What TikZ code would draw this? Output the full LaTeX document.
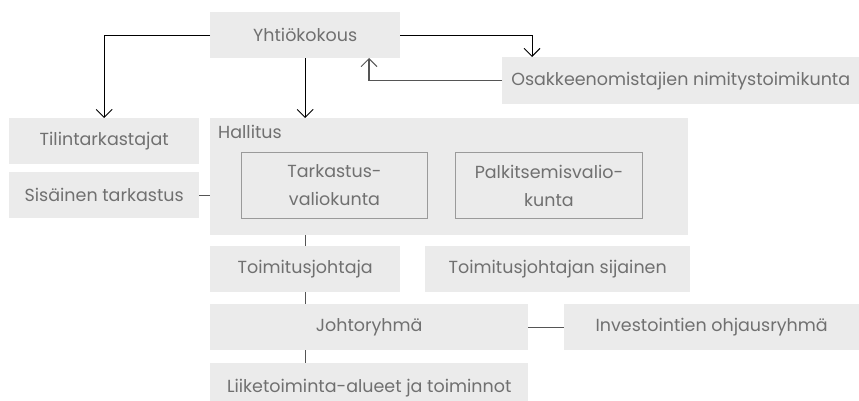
\documentclass[tikz,border=0pt]{standalone}
\usepackage{fontspec}
\setmainfont{Poppins}
\usetikzlibrary{arrows.meta,calc}
\definecolor{boxfill}{HTML}{EBEBEB}
\definecolor{txt}{HTML}{707070}
\definecolor{bord}{HTML}{9A9A9A}
\definecolor{conn}{HTML}{555555}
\tikzset{
  box/.style={fill=boxfill, text=txt, anchor=north west, inner sep=0pt, font=\fontsize{17.5}{28}\selectfont, align=center},
  inbox/.style={box, draw=bord, line width=1pt},
  arr/.style={draw=black, line width=0.9pt, -{Straight Barb[length=8pt,width=16pt,line width=0.9pt]}},
  lnk/.style={draw=conn, line width=1.4pt}
}
\begin{document}
\begin{tikzpicture}[x=1pt,y=-1pt]
\useasboundingbox (0,0) rectangle (859,401);
\begin{scope}
\clip (0,0) rectangle (859,401);
\node[box, minimum width=190pt, minimum height=46pt] (yht) at (210,12) {Yhtiökokous};
\node[box, minimum width=357pt, minimum height=47pt] (osak) at (502,57) {Osakkeenomistajien nimitystoimikunta};
\node[box, minimum width=190pt, minimum height=46pt] (tilin) at (9,118) {Tilintarkastajat};
\node[box, minimum width=190pt, minimum height=46pt] (sis) at (9,172) {Sisäinen tarkastus};
\node[box, minimum width=478pt, minimum height=117pt] (hall) at (210,118) {};
\node[box, fill=none, anchor=base west] (hlab) at (218,139) {Hallitus};
\node[inbox, minimum width=186pt, minimum height=66pt] (tark) at (241,152) {Tarkastus-\\valiokunta};
\node[inbox, minimum width=187pt, minimum height=66pt] (palk) at (455,152) {Palkitsemisvalio-\\kunta};
\node[box, minimum width=190pt, minimum height=46pt] (tj) at (210,246) {Toimitusjohtaja};
\node[box, minimum width=265pt, minimum height=46pt] (tjs) at (425,246) {Toimitusjohtajan sijainen};
\node[box, minimum width=318pt, minimum height=46pt] (joh) at (210,304) {Johtoryhmä};
\node[box, minimum width=295pt, minimum height=46pt] (inv) at (564,304) {Investointien ohjausryhmä};
\node[box, minimum width=318pt, minimum height=50pt] (liik) at (210,363) {Liiketoiminta-alueet ja toiminnot};
\coordinate (osakin) at (532,57);
\coordinate (yhtin) at (369,58);
\draw[arr] (yht.west) -| (tilin.north);
\draw[arr] (yht.south) -- (yht.south |- hall.north);
\draw[arr] (yht.east) -| (osakin);
\draw[lnk, -{Straight Barb[length=8pt,width=16pt,line width=0.9pt]}] (osak.west) -| (yhtin);
\draw[lnk] (sis.east) -- (sis.east -| hall.west);
\draw[lnk] (tj.north |- hall.south) -- (tj.north);
\draw[lnk] (tj.south) -- (tj.south |- joh.north);
\draw[lnk] (joh.east) -- (inv.west);
\draw[lnk] (tj.south |- joh.south) -- (tj.south |- liik.north);
\end{scope}
\end{tikzpicture}
\end{document}
